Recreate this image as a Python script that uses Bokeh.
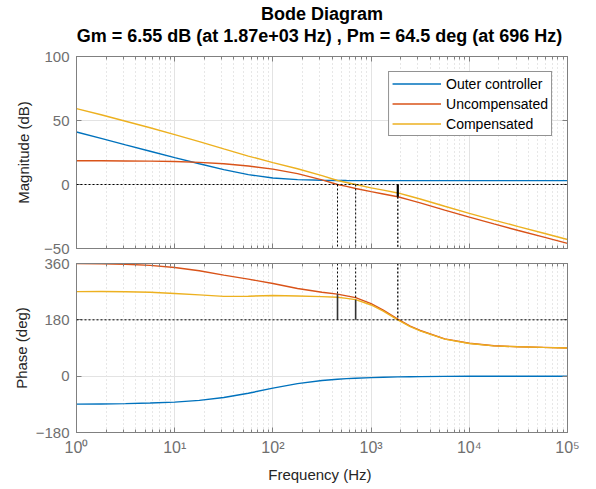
from bokeh.plotting import figure
from bokeh.layouts import column
from bokeh.models import Range1d, FixedTicker, LogAxis, LinearAxis, Span
from bokeh.core.properties import value
from bokeh.embed import file_html
from bokeh.resources import INLINE

# ---------------- data ----------------
freq_hz = [1, 1.78, 3.16, 5.62, 10, 17.8, 31.6, 56.2, 100, 178, 316, 455, 562, 696,
           1000, 1330, 1870, 2500, 3160, 5620, 10000, 17800, 31600, 56200, 100000]

outer_mag_db = [41.0, 36.0, 31.0, 26.0, 21.0, 16.2, 11.6, 7.7, 5.1, 3.8, 3.3, 3.13, 3.09, 3.06,
                3.03, 3.02, 3.0, 3.0, 3.0, 3.0, 3.0, 3.0, 3.0, 3.0, 3.0]
uncomp_mag_db = [18.5, 18.5, 18.4, 18.3, 18.0, 17.3, 16.2, 14.5, 12.0, 8.5, 3.6, 0.0, -1.5, -3.1,
                 -5.6, -7.4, -9.6, -12.2, -14.3, -20.0, -25.5, -30.8, -35.9, -40.9, -46.0]
comp_mag_db = [59.3, 54.5, 49.4, 44.3, 39.0, 33.5, 27.8, 22.2, 17.1, 12.3, 6.9, 3.1, 1.6, 0.0,
               -2.6, -4.4, -6.6, -9.2, -11.3, -17.0, -22.5, -27.8, -32.9, -37.9, -43.0]

outer_phase_deg = [-89.3, -88.7, -87.7, -85.9, -82.8, -77.3, -68.2, -54.6, -38.3, -23.9, -14.0, -9.9,
                   -8.0, -6.5, -4.5, -3.4, -2.4, -1.8, -1.4, -0.8, -0.45, -0.25, -0.14, -0.08, -0.05]
uncomp_phase_deg = [359.5, 359.0, 357.5, 354.0, 347.0, 337.0, 323.0, 310.0, 296.0, 280.0, 268.0, 262.0,
                    256.5, 251.0, 232.0, 211.0, 182.4, 160.0, 146.0, 119.0, 105.0, 97.0, 94.0, 92.0, 90.0]
comp_phase_deg = [270.2, 270.3, 269.8, 268.1, 264.2, 259.7, 254.8, 255.4, 257.7, 256.1, 254.0, 252.1,
                  248.5, 244.5, 227.5, 207.6, 180.0, 158.2, 144.6, 118.2, 104.5, 96.8, 93.9, 91.9, 90.0]

series_names = ["Outer controller", "Uncompensated", "Compensated"]
series_colors = ["#0072BD", "#D95319", "#EDB120"]

# stability-margin markers
pm_freq_hz = [455, 696]
pm_phase_deg = [262.0, 244.5]
gm_freq_hz = [1870]
gm_mag_db = [-9.6]

x_ticks = [1, 10, 100, 1000, 10000, 100000]
x_tick_labels = ["10\u2070", "10\u00b9", "10\u00b2", "10\u00b3", "10\u2074", "10\u2075"]
mag_ticks = [-50, 0, 50, 100]
phase_ticks = [-180, 0, 180, 360]

title_lines = ["Bode Diagram", "Gm = 6.55 dB (at 1.87e+03 Hz) ,  Pm = 64.5 deg (at 696 Hz)"]

# ---------------- styling ----------------
FONT = "Liberation Sans"
AX_COL = "#808080"
TICK_TXT = "#6f6f6f"
LBL_COL = "#262626"
W = 596
TITLE_H = 46

x_range = Range1d(1, 1e5)
minor_x = [m * d for d in x_ticks[:-1] for m in range(2, 10)]


def xticker():
    return FixedTicker(ticks=x_ticks, minor_ticks=minor_x)


def style_axis(ax, show_labels):
    ax.axis_line_color = AX_COL
    ax.major_tick_line_color = AX_COL
    ax.minor_tick_line_color = AX_COL
    ax.major_tick_in = 5
    ax.major_tick_out = 0
    ax.minor_tick_in = 3
    ax.minor_tick_out = 0
    ax.major_label_text_font = FONT
    ax.major_label_text_color = TICK_TXT
    ax.axis_label_text_font = FONT
    ax.axis_label_text_font_style = "normal"
    ax.axis_label_text_font_size = "15px"
    ax.axis_label_text_color = LBL_COL
    if show_labels:
        ax.major_label_text_font_size = "15px"
    else:
        ax.major_label_text_font_size = "1px"
        ax.major_label_text_alpha = 0.0
        ax.major_label_standoff = 0


def make_fig(height, yrange, yticks, ylabel, top_border, bottom_border, label_standoff, show_x):
    p = figure(width=W, height=height, x_axis_type="log", x_range=x_range,
               y_range=Range1d(*yrange), output_backend="svg", toolbar_location=None,
               min_border_left=76, min_border_right=29,
               min_border_top=top_border, min_border_bottom=bottom_border)
    p.background_fill_color = "white"
    p.border_fill_color = "white"
    p.outline_line_color = AX_COL
    bx = p.below[0]
    ly = p.left[0]
    yt = FixedTicker(ticks=yticks)
    ly.ticker = yt
    p.ygrid.ticker = yt
    bx.ticker = xticker()
    p.xgrid.ticker = xticker()
    style_axis(bx, show_x)
    style_axis(ly, True)
    ly.axis_label = ylabel
    ly.axis_label_standoff = label_standoff
    ly.major_label_standoff = 7
    ly.minor_tick_line_color = None
    p.xgrid.grid_line_color = "#e3e3e3"
    p.ygrid.grid_line_color = "#e3e3e3"
    p.xgrid.minor_grid_line_color = "#cfcfcf"
    p.xgrid.minor_grid_line_dash = "1 3"
    ra = LinearAxis(ticker=FixedTicker(ticks=yticks))
    style_axis(ra, False)
    ra.minor_tick_line_color = None
    p.add_layout(ra, "right")
    ta = LogAxis(ticker=xticker())
    style_axis(ta, False)
    p.add_layout(ta, "above")
    return p, bx


# ---------------- title strip (x: fraction of plot width, y: px from its top) ----------------
pt = figure(width=W, height=TITLE_H, x_range=Range1d(0, 1), y_range=Range1d(TITLE_H, 0),
            output_backend="svg", toolbar_location=None,
            min_border_left=0, min_border_right=0, min_border_top=0, min_border_bottom=0)
pt.axis.visible = False
pt.grid.visible = False
pt.outline_line_color = None
pt.border_fill_color = "white"
pt.text(x=[0.5, 0.5], y=[13, 35.5], text=title_lines, text_align="center",
        text_baseline="middle", text_font=value(FONT), text_font_size="18px",
        text_font_style="bold", text_color="#000000")

# ---------------- magnitude ----------------
p1, bx1 = make_fig(256 - TITLE_H, (-50, 100), mag_ticks, "Magnitude (dB)", 56 - TITLE_H, 8, 9, False)

p1.add_layout(Span(location=0, dimension="width", line_color="black", line_dash="2 2", line_width=1))

for vals, name, col in zip([outer_mag_db, uncomp_mag_db, comp_mag_db], series_names, series_colors):
    p1.line(freq_hz, vals, line_color=col, line_width=1.4, legend_label=name)

p1.segment(x0=pm_freq_hz, y0=[0] * len(pm_freq_hz), x1=pm_freq_hz, y1=[-50] * len(pm_freq_hz),
           line_color="black", line_dash="2 2", line_width=1)
p1.segment(x0=gm_freq_hz, y0=[0], x1=gm_freq_hz, y1=gm_mag_db, line_color="black", line_width=2.2)
p1.segment(x0=gm_freq_hz, y0=gm_mag_db, x1=gm_freq_hz, y1=[-50], line_color="black",
           line_dash="2 2", line_width=1.3)

lg = p1.legend[0]
lg.location = "top_right"
lg.margin = 15
lg.padding = 3
lg.spacing = 3
lg.glyph_width = 49
lg.glyph_height = 17
lg.label_height = 17
lg.label_standoff = 5
lg.label_text_font = FONT
lg.label_text_font_size = "14px"
lg.label_text_color = "#000000"
lg.border_line_color = "#262626"
lg.border_line_width = 1
lg.background_fill_alpha = 1.0

# ---------------- phase ----------------
p2, bx2 = make_fig(233, (-180, 360), phase_ticks, "Phase (deg)", 7, 57, 3, True)
bx2.major_label_text_font_size = "16px"
bx2.major_label_overrides = {t: l for t, l in zip(x_ticks, x_tick_labels)}
bx2.axis_label = "Frequency  (Hz)"
bx2.major_label_standoff = 6
bx2.axis_label_standoff = 7

p2.add_layout(Span(location=180, dimension="width", line_color="black", line_dash="2 2", line_width=1))

for vals, col in zip([outer_phase_deg, uncomp_phase_deg, comp_phase_deg], series_colors):
    p2.line(freq_hz, vals, line_color=col, line_width=1.4)

p2.segment(x0=pm_freq_hz, y0=[360] * len(pm_freq_hz), x1=pm_freq_hz, y1=pm_phase_deg,
           line_color="black", line_dash="2 2", line_width=1)
p2.segment(x0=pm_freq_hz, y0=pm_phase_deg, x1=pm_freq_hz, y1=[180] * len(pm_freq_hz),
           line_color="#333333", line_width=1.6)
p2.segment(x0=gm_freq_hz, y0=[360], x1=gm_freq_hz, y1=[180], line_color="black",
           line_dash="2 2", line_width=1.3)

layout = column(pt, p1, p2, spacing=0)
open("out.html", "w").write(file_html(layout, INLINE))
